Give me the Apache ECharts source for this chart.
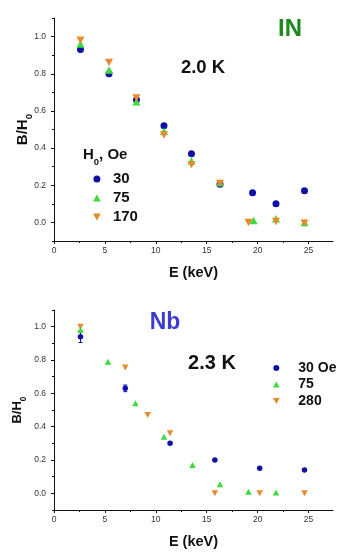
<!DOCTYPE html>
<html>
<head>
<meta charset="utf-8">
<script src="https://cdn.jsdelivr.net/npm/echarts@6/dist/echarts.min.js"></script>
<style>
  html, body { margin: 0; padding: 0; background: #fff; }
  #chart { width: 353px; height: 554px; }
</style>
</head>
<body>
<div id="chart"></div>
<script>
// ---- data: IN, 2.0 K ----
const in30E = [2.6, 5.4, 8.1, 10.8, 13.5, 16.3, 19.5, 21.8, 24.6];
const in30 = [0.93, 0.80, 0.66, 0.52, 0.37, 0.205, 0.16, 0.10, 0.17];
const in75E = [2.6, 5.4, 8.1, 10.8, 13.5, 16.3, 19.6, 21.8, 24.6];
const in75 = [0.96, 0.82, 0.65, 0.49, 0.33, 0.215, 0.01, 0.02, 0.0];
const in170E = [2.6, 5.4, 8.1, 10.8, 13.5, 16.3, 19.1, 21.8, 24.6];
const in170 = [0.98, 0.86, 0.67, 0.47, 0.31, 0.21, 0.0, 0.005, -0.005];

// ---- data: Nb, 2.3 K ----
const nb30E = [2.6, 7.0, 11.4, 15.8, 20.2, 24.6];
const nb30 = [0.94, 0.63, 0.30, 0.20, 0.15, 0.14];
const nb30Err = [0.035, 0.02, 0, 0, 0, 0];
const nb75E = [2.6, 5.3, 8.0, 10.8, 13.6, 16.3, 19.1, 21.8];
const nb75 = [0.98, 0.79, 0.54, 0.34, 0.17, 0.055, 0.01, 0.005];
const nb280E = [2.6, 7.0, 9.2, 11.4, 15.8, 20.2, 24.6];
const nb280 = [1.0, 0.755, 0.47, 0.36, 0.0, 0.0, 0.0];

// ticks
const xTicks = [0, 5, 10, 15, 20, 25];
const xMinorTicks = [2.5, 7.5, 12.5, 17.5, 22.5];
const yTicks = [0, 0.2, 0.4, 0.6, 0.8, 1.0];
const yMinorTicks = [-0.1, 0.1, 0.3, 0.5, 0.7, 0.9, 1.1];

// legend labels
const inLegend = { 'IN 30': '30', 'IN 75': '75', 'IN 170': '170' };
const nbLegend = { 'Nb 30': '30 Oe', 'Nb 75': '75', 'Nb 280': '280' };

const BLUE = '#1010a8';
const GREEN = '#3ddc3d';
const ORANGE = '#e88a2e';
const FONT = 'Liberation Sans, Arial, sans-serif';
const DOWN_TRI = 'path://M0,0L10,0L5,9Z';
const UP_TRI = 'path://M5,0L10,9L0,9Z';

const pairs = (xs, ys) => xs.map((x, i) => [x, ys[i]]);

const chart = echarts.init(document.getElementById('chart'));

const majorX = (gridIndex, nameGap) => ({
  type: 'value', gridIndex, position: 'bottom', min: 0, max: 27.4,
  name: 'E (keV)', nameLocation: 'middle', nameGap,
  nameTextStyle: { fontFamily: FONT, fontSize: 14.5, fontWeight: 'bold', color: '#111' },
  axisLine: { show: true, onZero: false, lineStyle: { color: '#111', width: 1 } },
  axisTick: { show: true, length: 3, customValues: xTicks, lineStyle: { color: '#111' } },
  axisLabel: { customValues: xTicks, margin: 5, fontFamily: FONT, fontSize: 8.5, color: '#333' },
  splitLine: { show: false }
});
const minorX = (gridIndex) => ({
  type: 'value', gridIndex, position: 'bottom', min: 0, max: 27.4,
  axisLine: { show: false, onZero: false },
  axisTick: { show: true, length: 2, customValues: xMinorTicks, lineStyle: { color: '#111' } },
  axisLabel: { show: false },
  splitLine: { show: false }
});
const majorY = (gridIndex, nameGap, nameSize) => ({
  type: 'value', gridIndex, position: 'left', min: -0.1, max: 1.1,
  name: 'B/H{s|0}', nameLocation: 'middle', nameGap, nameMoveOverlap: false,
  nameTextStyle: {
    fontFamily: FONT, fontSize: nameSize, fontWeight: 'bold', color: '#111',
    rich: { s: { fontFamily: FONT, fontSize: nameSize * 0.65, fontWeight: 'bold', color: '#111', verticalAlign: 'bottom', padding: [0, 0, -4, 0] } }
  },
  axisLine: { show: true, onZero: false, lineStyle: { color: '#111', width: 1 } },
  axisTick: { show: true, length: 3, customValues: yTicks, lineStyle: { color: '#111' } },
  axisLabel: { customValues: yTicks, margin: 8, fontFamily: FONT, fontSize: 8.5, color: '#333',
    formatter: v => v.toFixed(1) },
  splitLine: { show: false }
});
const minorY = (gridIndex) => ({
  type: 'value', gridIndex, position: 'left', min: -0.1, max: 1.1,
  axisLine: { show: false, onZero: false },
  axisTick: { show: true, length: 2, customValues: yMinorTicks, lineStyle: { color: '#111' } },
  axisLabel: { show: false },
  splitLine: { show: false }
});

const scatter = (name, xs, ys, axis, symbol, size, color) => ({
  name, type: 'scatter', xAxisIndex: axis, yAxisIndex: axis,
  data: pairs(xs, ys), symbol, symbolSize: size,
  itemStyle: { color, opacity: 1 }
});

const option = {
  animation: false,
  grid: [
    { left: 54, top: 18, width: 279, height: 223 },
    { left: 54, top: 310, width: 279, height: 200 }
  ],
  xAxis: [majorX(0, 24), minorX(0), majorX(1, 24), minorX(1)],
  yAxis: [majorY(0, 24, 15), minorY(0), majorY(1, 30, 13), minorY(1)],
  legend: [
    {
      data: [
        { name: 'IN 30', icon: 'circle' },
        { name: 'IN 75', icon: UP_TRI },
        { name: 'IN 170', icon: DOWN_TRI }
      ],
      orient: 'vertical', left: 88, top: 165,
      itemWidth: 22, itemHeight: 7, itemGap: 1, symbolKeepAspect: true,
      formatter: n => inLegend[n],
      textStyle: { fontFamily: FONT, fontSize: 15, fontWeight: 'bold', color: '#111', lineHeight: 18 },
      selectedMode: false
    },
    {
      data: [
        { name: 'Nb 30', icon: 'circle' },
        { name: 'Nb 75', icon: UP_TRI },
        { name: 'Nb 280', icon: DOWN_TRI }
      ],
      orient: 'vertical', left: 268, top: 355,
      itemWidth: 34, itemHeight: 6, itemGap: 0.5, symbolKeepAspect: true,
      formatter: n => nbLegend[n],
      textStyle: { fontFamily: FONT, fontSize: 14, fontWeight: 'bold', color: '#111', lineHeight: 16 },
      selectedMode: false
    }
  ],
  graphic: [
    { type: 'text', x: 290, y: 29, style: { text: 'IN', fontFamily: FONT, fontSize: 24, fontWeight: 'bold', fill: '#1e8a1e', align: 'center', verticalAlign: 'middle' } },
    { type: 'text', x: 203, y: 68, style: { text: '2.0 K', fontFamily: FONT, fontSize: 18.5, fontWeight: 'bold', fill: '#111', align: 'center', verticalAlign: 'middle' } },
    { type: 'text', x: 83, y: 155, style: {
        text: 'H{s|0}, Oe', fontFamily: FONT, fontSize: 15, fontWeight: 'bold', fill: '#111', verticalAlign: 'middle',
        rich: { s: { fontFamily: FONT, fontSize: 9.5, fontWeight: 'bold', fill: '#111', verticalAlign: 'bottom', padding: [0, 0, -5, 0] } }
      } },
    { type: 'text', x: 165, y: 323, style: { text: 'Nb', fontFamily: FONT, fontSize: 23, fontWeight: 'bold', fill: '#3b3bcf', align: 'center', verticalAlign: 'middle' } },
    { type: 'text', x: 212, y: 363, style: { text: '2.3 K', fontFamily: FONT, fontSize: 20, fontWeight: 'bold', fill: '#111', align: 'center', verticalAlign: 'middle' } }
  ],
  series: [
    scatter('IN 30', in30E, in30, 0, 'circle', 7, BLUE),
    scatter('IN 75', in75E, in75, 0, UP_TRI, [8, 7.5], GREEN),
    scatter('IN 170', in170E, in170, 0, DOWN_TRI, [8, 7.5], ORANGE),
    {
      type: 'custom', xAxisIndex: 2, yAxisIndex: 2, silent: true,
      data: nb30E.map((x, i) => [x, nb30[i], nb30Err[i]]),
      renderItem: (params, api) => {
        const x = api.value(0), y = api.value(1), e = api.value(2);
        if (!e) return null;
        const top = api.coord([x, y + e]);
        const bot = api.coord([x, y - e]);
        const st = { stroke: BLUE, lineWidth: 1 };
        return {
          type: 'group',
          children: [
            { type: 'line', shape: { x1: top[0], y1: top[1], x2: bot[0], y2: bot[1] }, style: st },
            { type: 'line', shape: { x1: top[0] - 2, y1: top[1], x2: top[0] + 2, y2: top[1] }, style: st },
            { type: 'line', shape: { x1: bot[0] - 2, y1: bot[1], x2: bot[0] + 2, y2: bot[1] }, style: st }
          ]
        };
      }
    },
    scatter('Nb 280', nb280E, nb280, 2, DOWN_TRI, [6.5, 6], ORANGE),
    scatter('Nb 75', nb75E, nb75, 2, UP_TRI, [6.5, 6], GREEN),
    scatter('Nb 30', nb30E, nb30, 2, 'circle', 5.5, BLUE)
  ]
};

chart.setOption(option);
</script>
</body>
</html>
